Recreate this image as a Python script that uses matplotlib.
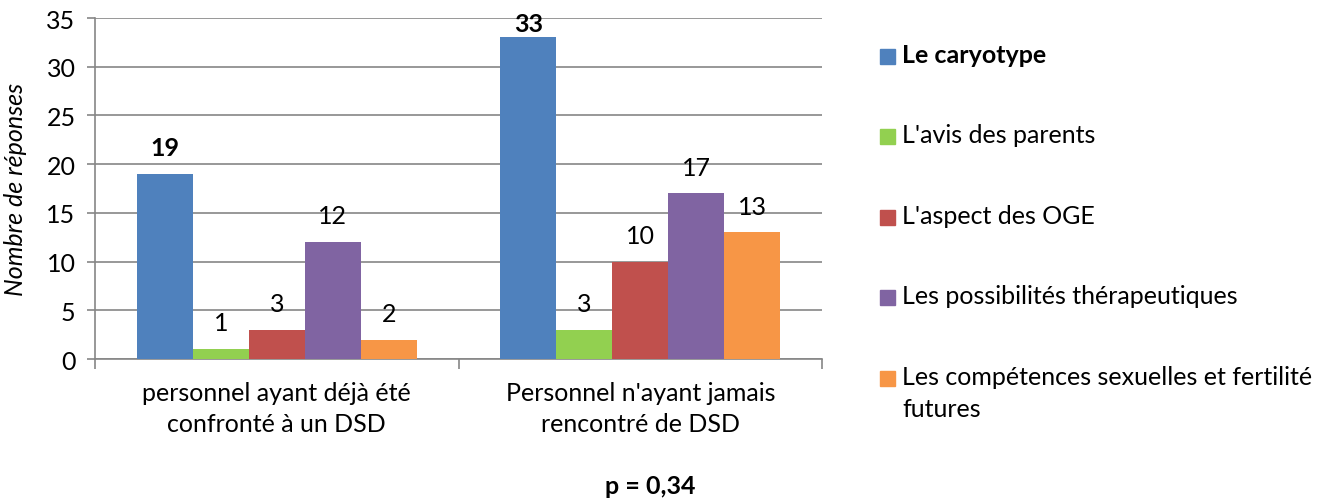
import matplotlib.pyplot as plt
from matplotlib.patches import Rectangle
import numpy as np

plt.rcParams['font.family'] = ['Lato', 'DejaVu Sans']

categories = ["personnel ayant déjà été\nconfronté à un DSD",
              "Personnel n'ayant jamais\nrencontré de DSD"]
series_names = ["Le caryotype", "L'avis des parents", "L'aspect des OGE",
                "Les possibilités thérapeutiques",
                "Les compétences sexuelles et fertilité\nfutures"]
values = [
    [19, 33],
    [1, 3],
    [3, 10],
    [12, 17],
    [2, 13],
]
colors = ["#4F81BD", "#92D050", "#C0504D", "#8064A2", "#F79646"]
bold_series = [True, False, False, False, False]

grid_col = "#868686"
fs = 18

fig = plt.figure(figsize=(13.2, 5.02), dpi=100)
ax = fig.add_axes([95 / 1320, 1 - 360 / 502, (822 - 95) / 1320, (360 - 19) / 502])

x = np.arange(len(categories))
bw = 0.154
n = len(series_names)
for i in range(n):
    pos = x + (i - (n - 1) / 2) * bw
    ax.bar(pos, values[i], width=bw, color=colors[i], zorder=3)
    for px, v in zip(pos, values[i]):
        ly = min(v + 2.7, 34.4)
        ax.text(px, ly, str(v), ha='center', va='center', fontsize=fs,
                fontweight='bold' if bold_series[i] else 'normal',
                clip_on=False, zorder=4)

ax.set_xlim(-0.5, 1.5)
ax.set_ylim(0, 35)
ax.set_yticks(range(0, 36, 5))
ax.yaxis.grid(True, color=grid_col, lw=1.2, zorder=0)
ax.set_axisbelow(True)
ax.tick_params(axis='y', length=6, color=grid_col, width=1.2, labelsize=fs, pad=8)

ax.set_xticks([-0.5, 0.5, 1.5])
ax.set_xticklabels([])
ax.set_xticks(x, minor=True)
ax.set_xticklabels(categories, minor=True, fontsize=fs, linespacing=1.4)
ax.tick_params(axis='x', which='major', length=7, color=grid_col, width=1.2)
ax.tick_params(axis='x', which='minor', length=0, pad=16)

for s in ['top', 'right']:
    ax.spines[s].set_visible(False)
for s in ['left', 'bottom']:
    ax.spines[s].set_color(grid_col)
    ax.spines[s].set_linewidth(1.2)

ax.set_ylabel("Nombre de réponses", fontsize=fs, style='italic', labelpad=14)

# legend
leg_y = [57, 137, 218, 298, 379]
for i in range(n):
    fig.patches.append(Rectangle((880 / 1320, 1 - (leg_y[i] + 7.5) / 502),
                                 15 / 1320, 15 / 502,
                                 transform=fig.transFigure, color=colors[i]))
    fig.text(902 / 1320, 1 - (leg_y[i] - 13) / 502, series_names[i],
             fontsize=fs, va='top', ha='left', linespacing=1.45,
             fontweight='bold' if bold_series[i] else 'normal')

fig.text(650 / 1320, 1 - 487 / 502, "p = 0,34", fontsize=fs,
         fontweight='bold', ha='center', va='center')

fig.savefig("out.png", dpi=100)
